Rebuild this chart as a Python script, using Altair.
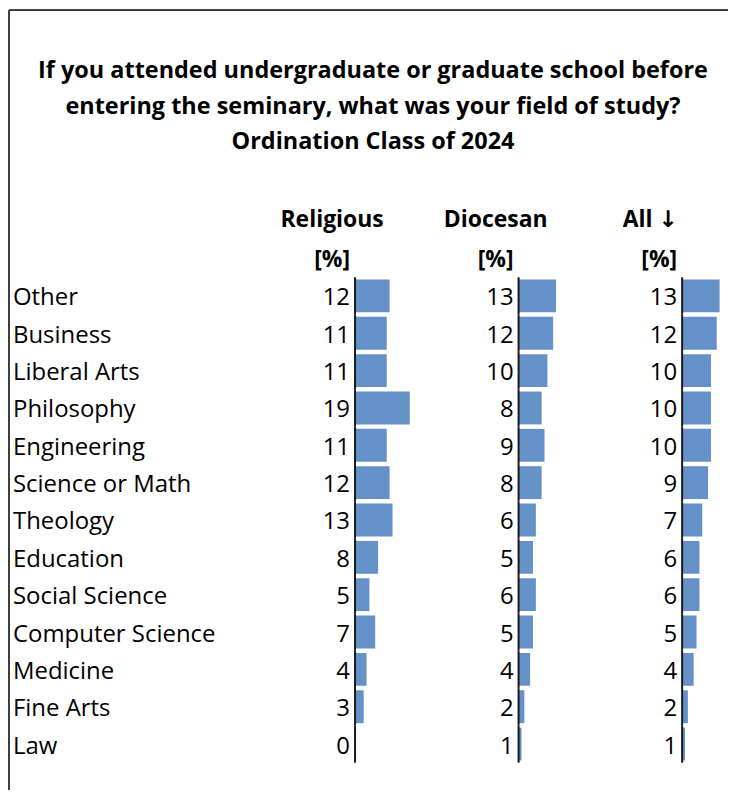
import altair as alt
import pandas as pd

# ---- data ----
categories = ["Other", "Business", "Liberal Arts", "Philosophy", "Engineering",
              "Science or Math", "Theology", "Education", "Social Science",
              "Computer Science", "Medicine", "Fine Arts", "Law"]
religious = [12, 11, 11, 19, 11, 12, 13, 8, 5, 7, 4, 3, 0]
diocesan = [13, 12, 10, 8, 9, 8, 6, 5, 6, 5, 4, 2, 1]
all_vals = [13, 12, 10, 10, 10, 9, 7, 6, 6, 5, 4, 2, 1]
title_lines = ["If you attended undergraduate or graduate school before",
               "entering the seminary, what was your field of study?",
               "Ordination Class of 2024"]
headers = ["Religious", "Diocesan", "All ↓"]
unit_label = "[%]"

df = pd.DataFrame({"cat": categories, "Religious": religious,
                   "Diocesan": diocesan, "All": all_vals})

FONT = "Open Sans, DejaVu Sans"
BAR = "#6591c9"
PX = 2.89          # pixels per percent
STEP = 37.45
Z = 60             # zero position inside each value panel
LW = 287           # label panel width
PW = 164           # value panel width
TOP_H = 193
BODY_H = STEP * 15
TOTAL_W = 721

ydomain = ["__h1", "__h2"] + categories
yscale = alt.Scale(domain=ydomain, paddingInner=0.12, paddingOuter=0.06)


def yenc(field="cat"):
    return alt.Y(f"{field}:N", scale=yscale, axis=None, sort=ydomain)


def value_panel(col, header, width, hdx):
    xscale = alt.Scale(domain=[-Z / PX, (width - Z) / PX], nice=False, zero=False)
    base = alt.Chart(df)
    bars = base.mark_bar(color=BAR).encode(
        x=alt.X(f"{col}:Q", scale=xscale, axis=None),
        x2=alt.datum(0),
        y=yenc(),
    )
    nums = base.mark_text(align="right", baseline="middle", dx=-5, dy=2.5,
                          font=FONT, fontSize=24, color="black").encode(
        x=alt.datum(0),
        y=yenc(),
        text=alt.Text(f"{col}:Q"),
    )
    rule = base.mark_tick(orient="vertical", thickness=2, size=STEP,
                          color="#1a1a1a", opacity=1).encode(
        x=alt.datum(0),
        y=yenc(),
    )
    hdr_df = pd.DataFrame({"row": ["__h1", "__h2"], "txt": [header, unit_label]})
    h1 = alt.Chart(hdr_df).transform_filter(alt.datum.row == "__h1").mark_text(
        align="center", baseline="middle", dx=hdx, dy=-1.5, font=FONT,
        fontSize=23, fontWeight="bold", color="black").encode(
        x=alt.datum(0), y=yenc("row"), text="txt:N")
    h2 = alt.Chart(hdr_df).transform_filter(alt.datum.row == "__h2").mark_text(
        align="right", baseline="middle", dx=-5, dy=1.5, font=FONT,
        fontSize=23, fontWeight="bold", color="black").encode(
        x=alt.datum(0), y=yenc("row"), text="txt:N")
    return alt.layer(bars, rule, nums, h1, h2).properties(width=width, height=BODY_H)


labels = alt.Chart(df).mark_text(align="left", baseline="middle", dy=2.5,
                                 font=FONT, fontSize=24, color="black").encode(
    x=alt.value(4),
    y=yenc(),
    text="cat:N",
).properties(width=LW, height=BODY_H)

p_rel = value_panel("Religious", headers[0], PW, -23)
p_dio = value_panel("Diocesan", headers[1], PW, -23)
p_all = value_panel("All", headers[2], TOTAL_W - LW - 2 * PW, -32)

body = alt.hconcat(labels, p_rel, p_dio, p_all, spacing=0, bounds="flush")

tdf = pd.DataFrame({"i": list(range(len(title_lines))), "line": title_lines})
title_txt = alt.Chart(tdf).mark_text(align="center", baseline="middle",
                                     font=FONT, fontSize=23.5, fontWeight="bold",
                                     color="black").encode(
    x=alt.value(365),
    y=alt.Y("i:Q", scale=alt.Scale(domain=[-1.732, 3.705], reverse=True,
                                   nice=False, zero=False), axis=None),
    text="line:N",
)
frame_top = alt.Chart(tdf).mark_rule(color="#333333", strokeWidth=1.2).encode(
    x=alt.value(0), x2=alt.value(TOTAL_W), y=alt.value(0))
frame_left = alt.Chart(tdf).mark_rule(color="#333333", strokeWidth=1.2).encode(
    x=alt.value(0), y=alt.value(0), y2=alt.value(782))
top = alt.layer(frame_top, frame_left, title_txt).properties(width=TOTAL_W, height=TOP_H)

chart = alt.vconcat(top, body, spacing=0, bounds="flush").properties(
    padding=0
).configure_view(stroke=None).resolve_scale(x="independent")

chart.save("out.html", embed_options={"renderer": "svg", "actions": False})
